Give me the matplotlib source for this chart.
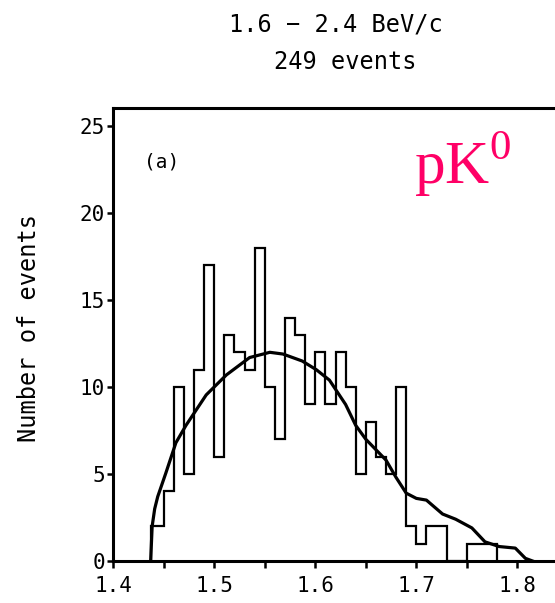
import numpy as np
import matplotlib
matplotlib.use('Agg')
import matplotlib.pyplot as plt
from matplotlib.ticker import MultipleLocator

plt.rcParams['mathtext.fontset'] = 'custom'
plt.rcParams['mathtext.rm'] = 'Liberation Serif'
plt.rcParams['font.family'] = 'DejaVu Sans Mono'

# histogram counts (249 events), first bin starts at threshold
counts = [2, 4, 10, 5, 11, 17, 6, 13, 12, 11, 18, 10, 7, 14, 13, 9, 12,
          9, 12, 10, 5, 8, 6, 5, 10, 2, 1, 2, 2, 0, 0, 1, 1, 1]
bin_edges = [1.437] + list(np.round(np.arange(1.45, 1.785, 0.01), 2))

# smooth phase-space curve
curve_x = [1.437, 1.4385, 1.441, 1.444, 1.452, 1.462, 1.472, 1.492, 1.512,
           1.535, 1.555, 1.568, 1.587, 1.601, 1.614, 1.630, 1.640, 1.650,
           1.660, 1.670, 1.680, 1.690, 1.700, 1.710, 1.726, 1.739, 1.755,
           1.768, 1.782, 1.798, 1.808, 1.815]
curve_y = [0, 2.0, 3.0, 3.7, 5.05, 6.8, 7.8, 9.55, 10.7,
           11.7, 12.0, 11.9, 11.5, 11.0, 10.4, 9.0, 7.8, 7.0,
           6.4, 5.8, 4.8, 3.9, 3.6, 3.5, 2.7, 2.4, 1.9,
           1.1, 0.83, 0.74, 0.15, 0]

x_ticks = [1.4, 1.5, 1.6, 1.7, 1.8]
y_ticks = [0, 5, 10, 15, 20, 25]

fig = plt.figure(figsize=(5.55, 6.03), dpi=100)
ax = fig.add_axes([0.2041, 0.0697, 0.7959, 0.7512])

ax.stairs(counts, bin_edges, baseline=0, fill=False, color='black', linewidth=1.6)
ax.plot(curve_x, curve_y, color='black', linewidth=2.3)

ax.set_xlim(1.4, 1.8373)
ax.set_ylim(0, 26.05)
ax.set_xticks(x_ticks)
ax.set_xticklabels([str(t) for t in x_ticks])
ax.xaxis.set_minor_locator(MultipleLocator(0.05))
ax.set_yticks(y_ticks)

for s in ['left', 'bottom', 'top']:
    ax.spines[s].set_linewidth(2.2)
ax.spines['right'].set_visible(False)
ax.tick_params(axis='x', which='both', direction='out', length=5, width=1.8,
               labelsize=15, pad=6)
ax.tick_params(axis='y', which='major', direction='out', length=4, width=1.8,
               labelsize=15, pad=2)

ax.set_ylabel('Number of events', fontsize=17)
ax.yaxis.set_label_coords(-0.163, 0.515)

ax.text(0.069, 0.881, '(a)', transform=ax.transAxes, fontsize=14, va='center')
ax.text(0.68, 0.875, r'pK$^\mathrm{0}$', transform=ax.transAxes, fontsize=44,
        color='#ff0066', family='Liberation Serif', va='center')

fig.text(0.605, 0.959, '1.6 − 2.4 BeV/c', ha='center', va='center', fontsize=17)
fig.text(0.622, 0.897, '249 events', ha='center', va='center', fontsize=17)

plt.savefig('out.png', dpi=100)
